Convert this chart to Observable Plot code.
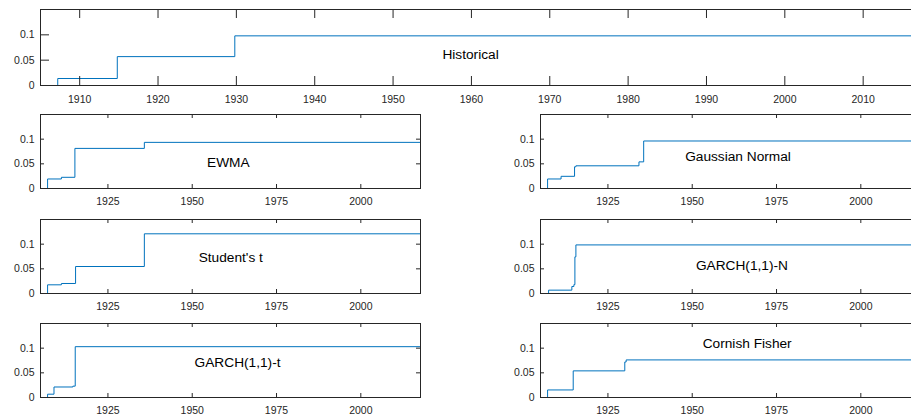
<!DOCTYPE html>
<html><head><meta charset="utf-8">
<script src="https://cdn.jsdelivr.net/npm/d3@7"></script>
<script src="https://cdn.jsdelivr.net/npm/@observablehq/plot@0.6"></script>
<style>
body{margin:0;background:#fff;}
#chart{position:relative;width:911px;height:417px;overflow:hidden;background:#fff;font-family:"Liberation Sans",Arial,sans-serif;}
#chart svg{position:absolute;overflow:visible;max-width:none !important;}
</style></head><body><div id="chart"></div>
<script>
// ---- data ----
const xDomain = [1905, 2017.7];
const yDomain = [0, 0.15];
const yTicks = [0, 0.05, 0.1];
const yTickLabels = ["0", "0.05", "0.1"];
const topXTicks = [1910, 1920, 1930, 1940, 1950, 1960, 1970, 1980, 1990, 2000, 2010];
const topXTickLabels = ["1910", "1920", "1930", "1940", "1950", "1960", "1970", "1980", "1990", "2000", "2010"];
const smallXTicks = [1925, 1950, 1975, 2000];
const smallXTickLabels = ["1925", "1950", "1975", "2000"];

const historicalYears = [1905, 1907.2, 1914.8, 1929.8, 2017.7];
const historicalValues = [0, 0.0138, 0.057, 0.098, 0.098];

const ewmaYears = [1905, 1907.1, 1911.2, 1915.2, 1935.8, 2017.7];
const ewmaValues = [0, 0.0193, 0.0227, 0.0813, 0.0935, 0.0935];

const gaussianYears = [1905, 1907.1, 1911.1, 1915.1, 1915.5, 1934.2, 1935.6, 2017.7];
const gaussianValues = [0, 0.0193, 0.0247, 0.044, 0.046, 0.054, 0.0963, 0.0963];

const studentYears = [1905, 1907.1, 1911.2, 1915.4, 1935.8, 2017.7];
const studentValues = [0, 0.0176, 0.0203, 0.0547, 0.121, 0.121];

const garchNYears = [1905, 1907.4, 1914.3, 1914.9, 1915.2, 1915.5, 2017.7];
const garchNValues = [0, 0.0068, 0.0142, 0.018, 0.0743, 0.0985, 0.0985];

const garchTYears = [1905, 1907.1, 1909.0, 1914.6, 1915.3, 2017.7];
const garchTValues = [0, 0.0067, 0.0213, 0.023, 0.103, 0.103];

const cornishYears = [1905, 1907.1, 1914.7, 1930.0, 1930.4, 2017.7];
const cornishValues = [0, 0.0153, 0.054, 0.072, 0.0762, 0.0762];

const panelLabels = ["Historical", "EWMA", "Gaussian Normal", "Student's t", "GARCH(1,1)-N", "GARCH(1,1)-t", "Cornish Fisher"];
const labelXs = [1956.3, 1954.4, 1947.9, 1951.9, 1951.1, 1950.7, 1953.1];
const labelYs = [0.0616, 0.0524, 0.0645, 0.0727, 0.0571, 0.0709, 0.1095];

// ---- drawing ----
const AX = "#262626";
const LINE = "#0072BD";
const FONT = '"Liberation Sans", Arial, sans-serif';
const chart = document.getElementById("chart");

function panel({years, values, idx, left, top, width, height, xTicks, xTickLabels, tickLen, labelPad}) {
  const data = years.map((x, i) => ({x, y: values[i]}));
  const lab = [{x: labelXs[idx], y: labelYs[idx], t: panelLabels[idx]}];
  const mL = 40, mT = 1, mB = 25, mR = 1;
  const svg = Plot.plot({
    width: width + mL + mR, height: height + mT + mB,
    marginLeft: mL, marginTop: mT, marginBottom: mB, marginRight: mR,
    x: {domain: xDomain, axis: null},
    y: {domain: yDomain, axis: null},
    style: {fontFamily: FONT, fontSize: "10.5px", color: AX, background: "transparent", overflow: "visible", maxWidth: "none"},
    marks: [
      Plot.line(data, {x: "x", y: "y", curve: "step-after", stroke: LINE, strokeWidth: 1, clip: true}),
      Plot.ruleX(xTicks, {x: d => d, insetTop: height - tickLen, stroke: AX}),
      Plot.ruleX(xTicks, {x: d => d, insetBottom: height - tickLen, stroke: AX}),
      Plot.ruleY(yTicks, {y: d => d, insetRight: width - tickLen, stroke: AX}),
      Plot.ruleY(yTicks, {y: d => d, insetLeft: width - tickLen, stroke: AX}),
      Plot.axisX({ticks: xTicks, tickSize: 0, tickPadding: labelPad, label: null, tickFormat: d => xTickLabels[xTicks.indexOf(d)], fill: AX}),
      Plot.axisY({ticks: yTicks, tickSize: 0, tickPadding: 6, label: null, tickFormat: d => yTickLabels[yTicks.indexOf(d)], fill: AX}),
      Plot.frame({stroke: AX}),
      Plot.text(lab, {x: "x", y: "y", text: "t", textAnchor: "start", fontSize: 13.7, fill: "#000"})
    ]
  });
  svg.style.left = (left - mL) + "px";
  svg.style.top = (top - mT) + "px";
  chart.appendChild(svg);
}

const small = {width: 380, height: 74, xTicks: smallXTicks, xTickLabels: smallXTickLabels, tickLen: 4, labelPad: 9};
panel({years: historicalYears, values: historicalValues, idx: 0, left: 40, top: 9, width: 883, height: 76,
  xTicks: topXTicks, xTickLabels: topXTickLabels, tickLen: 9, labelPad: 10});
panel({...small, years: ewmaYears, values: ewmaValues, idx: 1, left: 40, top: 114});
panel({...small, years: gaussianYears, values: gaussianValues, idx: 2, left: 540, top: 114});
panel({...small, years: studentYears, values: studentValues, idx: 3, left: 40, top: 219});
panel({...small, years: garchNYears, values: garchNValues, idx: 4, left: 540, top: 219});
panel({...small, years: garchTYears, values: garchTValues, idx: 5, left: 40, top: 323});
panel({...small, years: cornishYears, values: cornishValues, idx: 6, left: 540, top: 323});
</script></body></html>
